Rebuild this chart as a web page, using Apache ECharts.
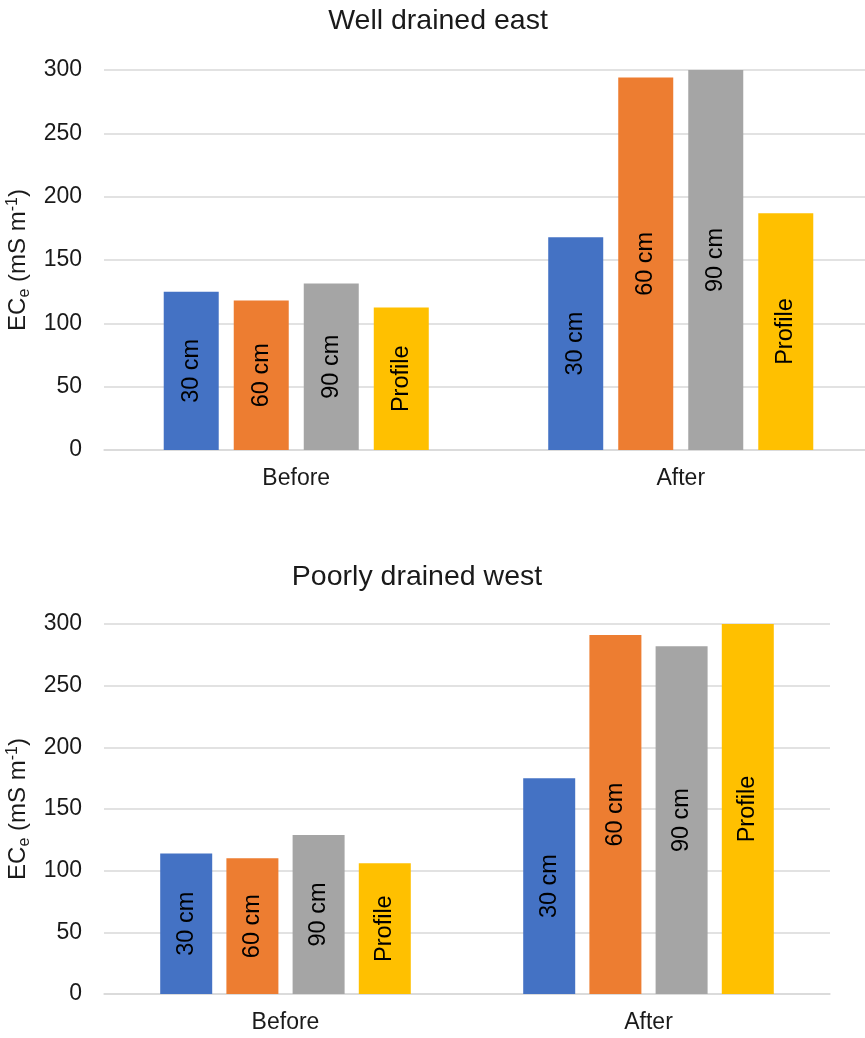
<!DOCTYPE html>
<html>
<head>
<meta charset="utf-8">
<script src="https://cdn.jsdelivr.net/npm/echarts@6/dist/echarts.min.js"></script>
<style>html,body{margin:0;padding:0;background:#fff}#c{width:865px;height:1038px}</style>
</head>
<body>
<div id="c"></div>
<script>
const categories = ['Before', 'After'];
const seriesNames = ['30 cm', '60 cm', '90 cm', 'Profile'];
const colors = ['#4472C4', '#ED7D31', '#A5A5A5', '#FFC000'];
const titles = ['Well drained east', 'Poorly drained west'];
const yTicks = [0, 50, 100, 150, 200, 250, 300];

// Well drained east: [Before, After] per depth
const east30 = [125, 168];
const east60 = [118, 294];
const east90 = [131.5, 300];
const eastProfile = [112.5, 187];

// Poorly drained west
const west30 = [114, 175];
const west60 = [110, 291];
const west90 = [129, 282];
const westProfile = [106, 300];

const eastData = [east30, east60, east90, eastProfile];
const westData = [west30, west60, west90, westProfile];

const font = 'Liberation Sans, Arial, sans-serif';
const txt = '#1a1a1a';
const gridColor = '#d9d9d9';

const chart = echarts.init(document.getElementById('c'));

function yAxis(idx) {
  return {
    type: 'value', gridIndex: idx, min: yTicks[0], max: yTicks[yTicks.length - 1], interval: 50,
    axisLine: { show: false }, axisTick: { show: false },
    splitLine: { lineStyle: { color: gridColor, width: 1.5 } },
    axisLabel: { color: txt, fontSize: 23, fontFamily: font, margin: 22 },
    name: '{m|EC}{s|e}{m| (mS m}{p|-1}{m|)}',
    nameLocation: 'middle', nameRotate: 90, nameGap: 70,
    nameTextStyle: {
      fontFamily: font, color: txt,
      rich: {
        m: { fontSize: 24, lineHeight: 28, fontFamily: font, color: txt },
        s: { fontSize: 16, lineHeight: 13, verticalAlign: 'bottom', fontFamily: font, color: txt },
        p: { fontSize: 16, lineHeight: 16, verticalAlign: 'top', fontFamily: font, color: txt }
      }
    }
  };
}
function xAxis(idx) {
  return {
    type: 'category', gridIndex: idx, data: categories,
    axisLine: { lineStyle: { color: gridColor, width: 1.5 } },
    axisTick: { show: false },
    axisLabel: { color: txt, fontSize: 23, fontFamily: font, margin: 17 }
  };
}
function makeSeries(data, idx, bw) {
  return data.map((vals, i) => ({
    type: 'bar', name: seriesNames[i], xAxisIndex: idx, yAxisIndex: idx,
    data: vals, barWidth: bw, barGap: '27.3%',
    itemStyle: { color: colors[i] },
    label: {
      show: true, position: 'inside', rotate: 90, formatter: seriesNames[i],
      color: '#000', fontSize: 23.5, fontFamily: font
    },
    emphasis: { disabled: true }
  }));
}

chart.setOption({
  animation: false,
  grid: [
    { left: 104, width: 769, top: 70, height: 380, containLabel: false, outerBoundsMode: 'none' },
    { left: 104, width: 726, top: 624, height: 370, containLabel: false, outerBoundsMode: 'none' }
  ],
  xAxis: [xAxis(0), xAxis(1)],
  yAxis: [yAxis(0), yAxis(1)],
  series: [...makeSeries(eastData, 0, 55), ...makeSeries(westData, 1, 52)],
  graphic: [
    { type: 'text', x: 438, y: 21, style: { text: titles[0], fontSize: 28.5, fontFamily: font, fill: txt, textAlign: 'center', textVerticalAlign: 'middle' } },
    { type: 'text', x: 417, y: 577, style: { text: titles[1], fontSize: 28.5, fontFamily: font, fill: txt, textAlign: 'center', textVerticalAlign: 'middle' } }
  ]
});
</script>
</body>
</html>
